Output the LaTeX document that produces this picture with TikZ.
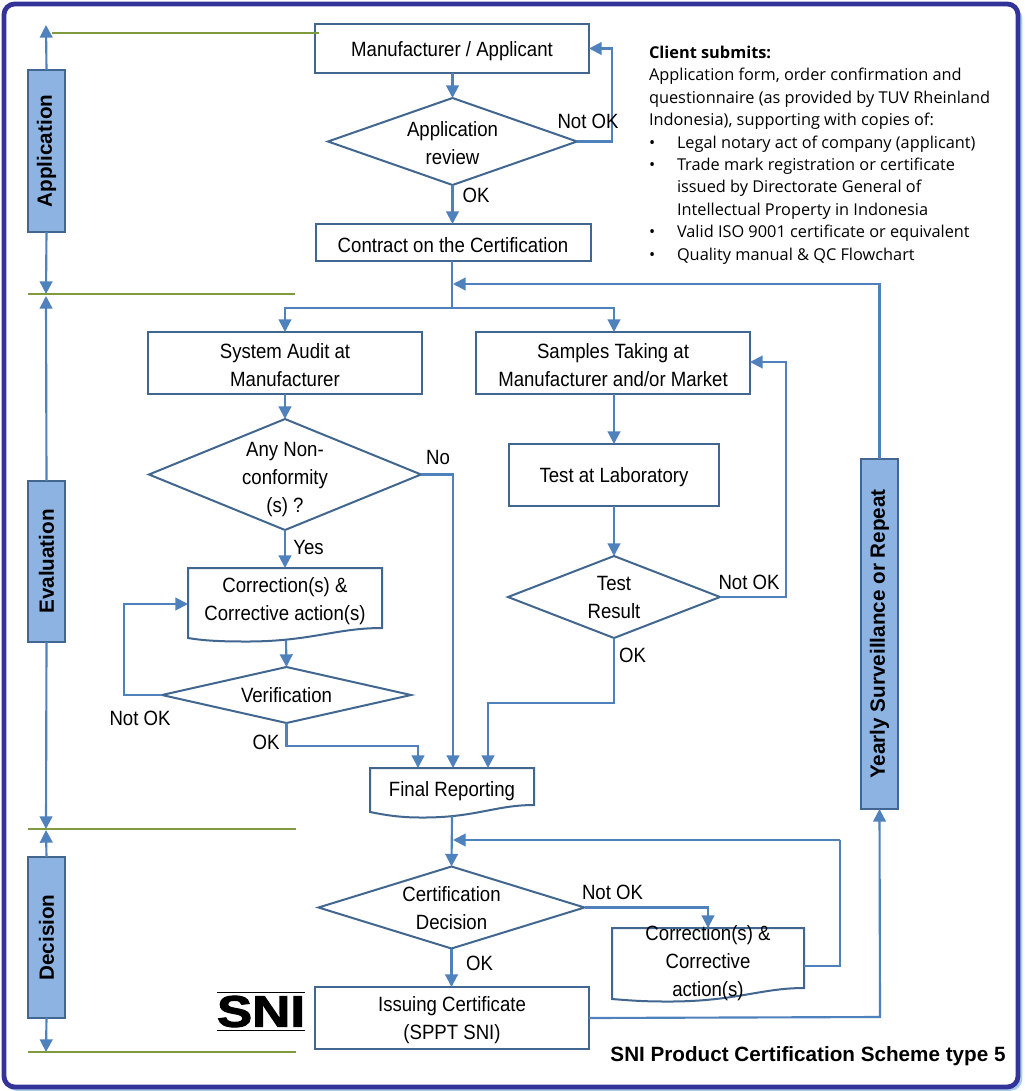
\documentclass[tikz,border=0pt]{standalone}
\usepackage{fontspec}
\usetikzlibrary{shapes.geometric,arrows.meta,calc}
\setmainfont{Liberation Sans}
\newfontfamily\nar[FakeStretch=0.9]{Liberation Sans}
\newfontfamily\cli{Open Sans}
\newfontfamily\snif[FakeStretch=1.2,FakeBold=2.5]{Liberation Sans}
\definecolor{frameblue}{HTML}{343399}
\definecolor{frameshadow}{HTML}{A9CFE8}
\definecolor{shapeline}{HTML}{41668F}
\definecolor{conn}{HTML}{4F81BD}
\definecolor{barfill}{HTML}{8DB3E2}
\definecolor{greenline}{HTML}{7F9A3F}
\tikzset{
 x=0.75pt,y=-0.75pt,
 every node/.style={inner sep=0pt,outer sep=0pt},
 txt/.style={font=\nar\fontsize{15.5}{21}\selectfont,align=center,text=black},
 lab/.style={txt},
 box/.style={draw=shapeline,line width=1.5pt,fill=white},
 dia/.style={diamond,draw=shapeline,line width=1.5pt,fill=white},
 doc/.style={txt},
 wave/.style={draw=shapeline,line width=1.5pt,fill=white},
 bar/.style={draw=shapeline,line width=1pt,fill=barfill,minimum height=37*0.75pt,rotate=90,font=\bfseries\fontsize{15.5}{18}\selectfont},
 arr/.style={draw=conn,line width=1.6pt,-{Triangle[length=9.5pt,width=9.5pt]}},
 plain/.style={draw=conn,line width=1.6pt},
 glin/.style={draw=greenline,line width=1.6pt},
}
\newcommand\wbox[5]{\node[box,minimum width=#3*0.75pt,minimum height=#4*0.75pt,label={[txt,yshift=-1.7pt]center:#5}] (#1) at (#2) {};}
\newcommand\wdia[6][-1pt]{\node[dia,minimum width=#4*0.75pt,minimum height=#5*0.75pt,label={[txt,yshift=#1]center:#6}] (#2) at (#3) {};}
\begin{document}
\begin{tikzpicture}
\useasboundingbox (0,0) rectangle (1024,1091);
\fill[white] (0,0) rectangle (1024,1091);
\draw[frameshadow,line width=2pt,rounded corners=8pt] (6,8) rectangle (1021,1089.5);
\draw[frameblue,line width=3.6pt,fill=white,rounded corners=8pt] (4,4) rectangle (1018,1087);

% --- green phase lines
\coordinate (g1a) at (52,33);  \coordinate (g1b) at (319,33);
\coordinate (g2a) at (28,294); \coordinate (g2b) at (295,294);
\coordinate (g3a) at (28,829); \coordinate (g3b) at (296,829);
\coordinate (g4a) at (28,1052);\coordinate (g4b) at (296,1052);

% --- boxes
\wbox{mfr}{452,48.5}{274}{49}{Manufacturer / Applicant}
\wdia{rev}{452.5,141.5}{249}{87}{Application\\review}
\wbox{con}{453,242.5}{275}{37}{Contract on the Certification}
\wbox{aud}{285,363}{274}{62}{System Audit at\\Manufacturer}
\wbox{sam}{613,363}{274}{62}{Samples Taking at\\Manufacturer and/or Market}
\wbox{lab1}{614,475}{210}{62}{Test at Laboratory}
\wdia[-4pt]{non}{285,474.5}{272}{111}{Any Non-\\conformity\\(s) ?}
\wdia[-0.3pt]{res}{614,597}{212}{82}{Test\\Result}
\wdia[-0.3pt]{ver}{286.5,695}{249}{56}{Verification}
\wdia[-0.3pt]{dec}{451.5,907.5}{266}{82}{Certification\\Decision}
\wbox{iss}{452,1018}{274}{62}{Issuing Certificate\\(SPPT SNI)}

% --- document shapes
\draw[wave] (188,638) -- (188,568) -- (382,568) -- (382,628) .. controls (335,628) and (310,642) .. (243,641.5) .. controls (215,641.5) and (200,640) .. (188,638) -- cycle;
\node[doc,minimum width=194*0.75pt,minimum height=70*0.75pt] (cor1) at (285,601) {Correction(s) \&\\Corrective action(s)};
\draw[wave] (370,812) -- (370,768) -- (534,768) -- (534,805) .. controls (495,805) and (475,818) .. (420,817.5) .. controls (400,817.5) and (385,815) .. (370,812) -- cycle;
\node[doc,minimum width=164*0.75pt,minimum height=44*0.75pt] (fin) at (452,791) {Final Reporting};
\draw[wave] (612,999) -- (612,928) -- (804,928) -- (804,988) .. controls (760,988) and (735,1002) .. (665,1001.5) .. controls (640,1001.5) and (625,1000) .. (612,999) -- cycle;
\node[minimum width=192*0.75pt,minimum height=73*0.75pt,label={[txt,yshift=-1.3pt]center:Correction(s) \&\\Corrective\\action(s)}] (cor2) at (708,961) {};

% --- side bars
\node[bar,minimum width=162*0.75pt] (ba) at (46.5,151) {Application};
\node[bar,minimum width=161*0.75pt] (be) at (46.5,561.5) {Evaluation};
\node[bar,minimum width=161*0.75pt] (bd) at (46.5,937.5) {Decision};
\node[bar,minimum width=350*0.75pt] (by) at (879.5,634) {Yearly Surveillance or Repeat};

% --- free end points
\coordinate (pa1) at (46,25);
\coordinate (pa2) at (46,294);
\coordinate (pe1) at (46,296);
\coordinate (pe2) at (46,829);
\coordinate (pd1) at (46,830);
\coordinate (pd2) at (46,1052);
\coordinate (split) at (452,308);
\coordinate (ret) at (453,284);
\coordinate (ret2) at (453,840);

% --- phase arrows
\draw[arr] (ba.east) -- (pa1);
\draw[arr] (ba.west) -- (pa2);
\draw[arr] (be.east) -- (pe1);
\draw[arr] (be.west) -- (pe2);
\draw[arr] (bd.east) -- (pd1);
\draw[arr] (bd.west) -- (pd2);

\draw[glin] (g1a) -- (g1b);
\draw[glin] (g2a) -- (g2b);
\draw[glin] (g3a) -- (g3b);
\draw[glin] (g4a) -- (g4b);

% --- connectors
\draw[arr] (mfr.south -| rev.north) -- (rev.north);
\draw[arr] (rev.east) -- (612,141.5) -- (612,48.5) -- (mfr.east);
\draw[arr] (rev.south) -- (rev.south |- con.north);
\draw[plain] (con.south -| split) -- (split);
\draw[arr] (split) -| (aud.north);
\draw[arr] (split) -| (sam.north -| lab1.north);
\draw[arr] (by.east) -- (by.east |- ret) -- (ret);
\draw[arr] (aud.south) -- (non.north);
\draw[arr] (non.east) -- (453,474.5) -- (453,768);
\draw[arr] (non.south) -- (285,568);
\draw[arr] (sam.south -| lab1.north) -- (lab1.north);
\draw[arr] (lab1.south) -- (res.north);
\draw[arr] (res.east) -- (786,597) -- (786,362) -- (750,362);
\draw[arr] (res.south) -- (614,703) -- (488,703) -- (488,768);
\draw[arr] (286,640) -- (ver.north);
\draw[arr] (ver.west) -- (124,695) -- (124,604) -- (188,604);
\draw[arr] (ver.south) -- (286.5,746) -- (418,746) -- (418,768);
\draw[arr] (452,816) -- (dec.north);
\draw[arr] (dec.east) -- (708,907.5) -- (708,928);
\draw[arr] (dec.south) -- (iss.north -| dec.south);
\draw[plain] (804,966) -- (840,966) -- (840,840);
\draw[arr] (840,840) -- (ret2);
\draw[arr] (iss.east) -- (880,1017) -- (by.west);

% --- connector labels
\node[lab] (l1) at (588,121.5) {Not OK};
\node[lab] (l2) at (476,195) {OK};
\node[lab] (l3) at (438,457) {No};
\node[lab] (l4) at (308.5,547) {Yes};
\node[lab] (l5) at (749,582) {Not OK};
\node[lab] (l6) at (632.5,655) {OK};
\node[lab] (l7) at (140,718) {Not OK};
\node[lab] (l8) at (266,742) {OK};
\node[lab] (l9) at (612.5,892) {Not OK};
\node[lab] (l10) at (479.5,963) {OK};

% --- logo
\node[font=\snif\bfseries\fontsize{33}{33}\selectfont] (sni) at (261,1011.5) {SNI};
\draw[black,line width=1.4pt] (217,992.5) -- (305,992.5) (217,1030.5) -- (305,1030.5);

% --- client note
\node[anchor=north west,align=left,font=\cli\fontsize{12.25}{16.8}\selectfont] (note) at (649,46)
 {\textbf{Client submits:}\\
 Application form, order confirmation and\\
 questionnaire (as provided by TUV Rheinland\\
 Indonesia), supporting with copies of:\\
 \makebox[21pt][l]{•}Legal notary act of company (applicant)\\
 \makebox[21pt][l]{•}Trade mark registration or certificate\\
 \makebox[21pt][l]{}issued by Directorate General of\\
 \makebox[21pt][l]{}Intellectual Property in Indonesia\\
 \makebox[21pt][l]{•}Valid ISO 9001 certificate or equivalent\\
 \makebox[21pt][l]{•}Quality manual \& QC Flowchart};

% --- title
\node[font=\bfseries\fontsize{15.5}{18}\selectfont] (title) at (808,1056) {SNI Product Certification Scheme type 5};
\end{tikzpicture}
\end{document}
